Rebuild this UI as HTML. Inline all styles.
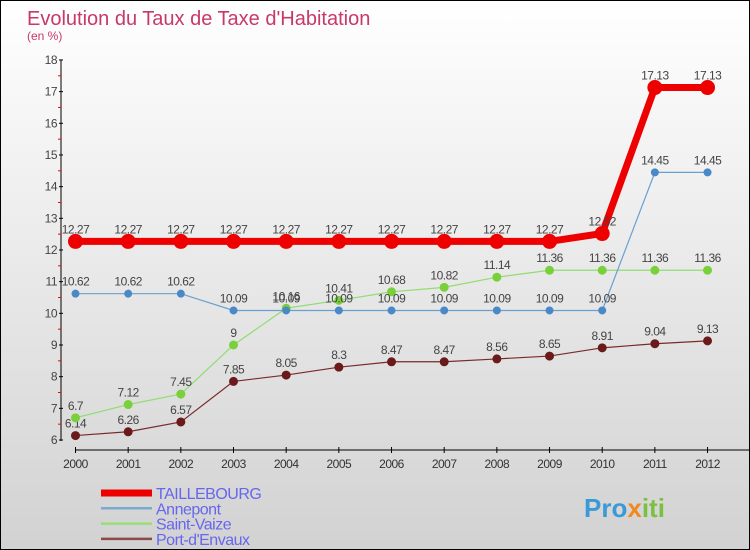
<!DOCTYPE html>
<html><head><meta charset="utf-8"><style>
html,body{margin:0;padding:0}
body{width:750px;height:550px;overflow:hidden;font-family:"Liberation Sans",sans-serif}
#wrap{position:relative;width:748px;height:548px;border:1px solid #000;background:linear-gradient(#ffffff,#d2d2d2)}
</style></head><body>
<div id="wrap">
<svg id="chart" width="748" height="548" style="position:absolute;left:0;top:0">
<text x="26" y="24" font-size="20" fill="#c8386a">Evolution du Taux de Taxe d'Habitation</text>
<text x="26" y="39" font-size="12" fill="#c8386a">(en %)</text>
<g id="axes"></g><g id="series"></g><g id="legend"></g>
<text x="583" y="516" font-size="26" font-weight="bold" fill="#3a9ad8">Pro<tspan fill="#f08a20">x</tspan><tspan fill="#7ac142">iti</tspan></text>
</svg>
</div>
<script>
const years=[2000,2001,2002,2003,2004,2005,2006,2007,2008,2009,2010,2011,2012];
const taillebourg=[12.27,12.27,12.27,12.27,12.27,12.27,12.27,12.27,12.27,12.27,12.52,17.13,17.13];
const annepont=[10.62,10.62,10.62,10.09,10.09,10.09,10.09,10.09,10.09,10.09,10.09,14.45,14.45];
const saintVaize=[6.7,7.12,7.45,9,10.16,10.41,10.68,10.82,11.14,11.36,11.36,11.36,11.36];
const portEnvaux=[6.14,6.26,6.57,7.85,8.05,8.3,8.47,8.47,8.56,8.65,8.91,9.04,9.13];
const yTicks=[6,7,8,9,10,11,12,13,14,15,16,17,18];
const seriesNames=["TAILLEBOURG","Annepont","Saint-Vaize","Port-d'Envaux"];
const NS="http://www.w3.org/2000/svg";
function x(i){return 74.5+i*52.67;}
function y(v){return 439-(v-6)*31.67;}
function mk(tag,attrs,parent){const e=document.createElementNS(NS,tag);for(const k in attrs)e.setAttribute(k,attrs[k]);parent.appendChild(e);return e;}
const axes=document.getElementById('axes');
let e=mk('line',{x1:60,y1:59,x2:60,y2:440,stroke:'#000','stroke-width':1},axes);


e=mk('line',{x1:74,y1:449,x2:748,y2:449,stroke:'#000','stroke-width':1},axes);


yTicks.forEach(v=>{
 mk('line',{x1:58,y1:y(v),x2:62,y2:y(v),stroke:'#000'},axes);
 if(v<18)mk('line',{x1:57,y1:y(v+0.5),x2:60,y2:y(v+0.5),stroke:'#f00'},axes);
 const t=mk('text',{x:56,y:y(v)+4,'font-size':12,fill:'#444','text-anchor':'end','letter-spacing':'-0.5'},axes);
 t.textContent=v;
 
 
});
years.forEach((yr,i)=>{
 mk('line',{x1:x(i),y1:446,x2:x(i),y2:452,stroke:'#000'},axes);
 const t=mk('text',{x:x(i),y:467,'font-size':12,fill:'#333','text-anchor':'middle','letter-spacing':'-0.5'},axes);
 t.textContent=yr;
 
 
});
const ser=document.getElementById('series');
const defs=[
 {data:portEnvaux,color:'#7a2a2a',w:1.2,r:4,fill:'#6a1a1a',name:'port-d-envaux'},
 {data:saintVaize,color:'#90dd70',w:1.2,r:4,fill:'#7ad03a',name:'saint-vaize'},
 {data:annepont,color:'#6aa0d0',w:1.2,r:3.5,fill:'#4a88c8',name:'annepont'},
 {data:taillebourg,color:'#ee0000',w:7,r:7,fill:'#ee0000',name:'taillebourg'}
];
defs.forEach(d=>{
 const g=mk('g',{},ser);
 
 
 const p=mk('polyline',{points:d.data.map((v,i)=>x(i)+','+y(v)).join(' '),fill:'none',stroke:d.color,'stroke-width':d.w},g);
 
 
 d.data.forEach((v,i)=>{
  const c=mk('circle',{cx:x(i),cy:y(v),r:d.r,fill:d.fill,stroke:d.fill},g);
  
  
  const t=mk('text',{x:x(i),y:y(v)-8,'font-size':12,fill:'#444','text-anchor':'middle','letter-spacing':'-0.5'},g);
  t.textContent=v;
  
  
 });
});
const leg=document.getElementById('legend');
const legColors=['#ee0000','#7aaad0','#98dd78','#8a4a4a'];
const legW=[7,2.5,2.5,2.5];
seriesNames.forEach((n,i)=>{
 const yy=492+i*15.3;
 const g=mk('g',{},leg);
 
 
 mk('line',{x1:100,y1:yy,x2:151,y2:yy,stroke:legColors[i],'stroke-width':legW[i]},g);
 const t=mk('text',{x:155,y:yy+6,'font-size':16,fill:'#6666ee','letter-spacing':'-0.5'},g);
 t.textContent=n;
});
</script>
</body></html>
